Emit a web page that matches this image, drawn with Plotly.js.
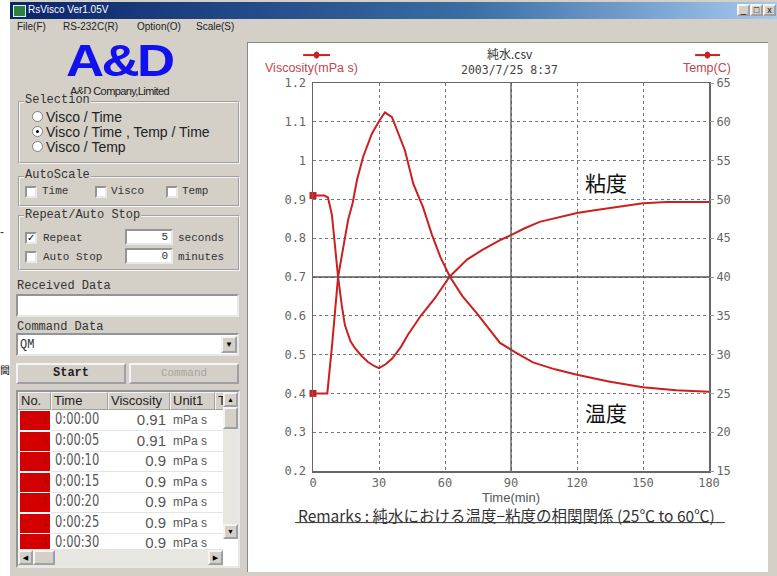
<!DOCTYPE html>
<html><head><meta charset="utf-8">
<script src="https://cdn.plot.ly/plotly-3.0.1.min.js"></script>
<style>
body{margin:0;width:777px;height:576px;overflow:hidden;background:#fff;position:relative;font-family:"Liberation Sans","DejaVu Sans",sans-serif;}
.a{position:absolute;white-space:nowrap;line-height:1;}
.mono{font-family:"Liberation Mono","DejaVu Sans Mono",monospace;font-size:12px;color:#333;}
.grp{position:absolute;border:2px groove #f4f4f4;box-sizing:border-box;}
.lbl{background:#d4d0c8;padding:0 1px;}
.sunk{position:absolute;background:#fff;border:2px inset #e8e8e8;box-sizing:border-box;}
.btn{position:absolute;background:#d4d0c8;border:2px outset #f4f4f4;box-sizing:border-box;text-align:center;}
.chk{position:absolute;width:12px;height:12px;background:#fff;border:2px inset #e8e8e8;box-sizing:border-box;font-size:10px;line-height:8px;color:#000;}
.rad{position:absolute;width:11px;height:11px;border-radius:50%;background:#fff;border:1px solid #808080;box-sizing:border-box;}
.radio{font-size:14px;color:#222;}
</style></head>
<body>
<!-- outside artifacts -->
<div class="a" style="left:0;top:226px;font-size:12px;color:#333;">-</div>
<div class="a" style="left:0;top:365px;font-size:10px;color:#111;font-family:'Noto Sans CJK JP';">閫</div>

<!-- window -->
<div style="position:absolute;left:10px;top:0;width:767px;height:576px;background:#d4d0c8;"></div>
<div style="position:absolute;left:10px;top:2px;width:767px;height:17px;background:linear-gradient(to right,#0a246a,#3a6ea5 60%,#a6caf0);"></div>
<div style="position:absolute;left:13px;top:5px;width:11px;height:10px;background:#2f7f3f;border:1px solid #cfe;"></div>
<div class="a" style="left:28px;top:5px;font-size:10px;color:#fff;">RsVisco Ver1.05V</div>
<div class="btn" style="left:737px;top:4px;width:13px;height:12px;font-size:9px;line-height:8px;">_</div>
<div class="btn" style="left:750px;top:4px;width:13px;height:12px;font-size:9px;line-height:8px;">&#9633;</div>
<div class="btn" style="left:763px;top:4px;width:13px;height:12px;font-size:9px;line-height:8px;">x</div>
<div class="a" style="left:17px;top:22px;font-size:10px;color:#222;">File(F)</div>
<div class="a" style="left:63px;top:22px;font-size:10px;color:#222;">RS-232C(R)</div>
<div class="a" style="left:137px;top:22px;font-size:10px;color:#222;">Option(O)</div>
<div class="a" style="left:196px;top:22px;font-size:10px;color:#222;">Scale(S)</div>

<!-- logo -->
<div class="a" style="left:66px;top:38px;font-size:40px;font-weight:bold;color:#1111ee;font-family:'Liberation Sans';letter-spacing:-2px;transform:scale(1.32,1.12);transform-origin:left top;">A&amp;D</div>
<div class="a" style="left:70px;top:86px;font-size:11px;color:#222;letter-spacing:-0.6px;">A&amp;D Company,Limited</div>

<!-- Selection -->
<div class="grp" style="left:18px;top:101px;width:222px;height:63px;"></div>
<div class="a mono lbl" style="left:24px;top:94px;">Selection</div>
<div class="rad" style="left:32px;top:111px;"></div>
<div class="a radio" style="left:46px;top:110px;">Visco / Time</div>
<div class="rad" style="left:32px;top:126px;"><div style="position:absolute;left:3px;top:3px;width:3px;height:3px;border-radius:50%;background:#000;"></div></div>
<div class="a radio" style="left:46px;top:125px;">Visco / Time , Temp / Time</div>
<div class="rad" style="left:32px;top:141px;"></div>
<div class="a radio" style="left:46px;top:140px;">Visco / Temp</div>

<!-- AutoScale -->
<div class="grp" style="left:18px;top:176px;width:222px;height:31px;"></div>
<div class="a mono lbl" style="left:24px;top:169px;">AutoScale</div>
<div class="chk" style="left:25px;top:186px;"></div>
<div class="a mono" style="left:42px;top:186px;font-size:11px;">Time</div>
<div class="chk" style="left:95px;top:186px;"></div>
<div class="a mono" style="left:111px;top:186px;font-size:11px;">Visco</div>
<div class="chk" style="left:166px;top:186px;"></div>
<div class="a mono" style="left:182px;top:186px;font-size:11px;">Temp</div>

<!-- Repeat/Auto Stop -->
<div class="grp" style="left:18px;top:215px;width:222px;height:56px;"></div>
<div class="a mono lbl" style="left:24px;top:209px;">Repeat/Auto Stop</div>
<div class="chk" style="left:25px;top:232px;">&#10003;</div>
<div class="a mono" style="left:43px;top:233px;font-size:11px;">Repeat</div>
<div class="sunk" style="left:125px;top:229px;width:48px;height:16px;"><div class="a mono" style="right:3px;top:1px;font-size:11px;">5</div></div>
<div class="a mono" style="left:178px;top:233px;font-size:11px;">seconds</div>
<div class="chk" style="left:25px;top:251px;"></div>
<div class="a mono" style="left:43px;top:252px;font-size:11px;">Auto Stop</div>
<div class="sunk" style="left:125px;top:248px;width:48px;height:16px;"><div class="a mono" style="right:3px;top:1px;font-size:11px;">0</div></div>
<div class="a mono" style="left:178px;top:252px;font-size:11px;">minutes</div>

<div class="a mono" style="left:17px;top:280px;">Received Data</div>
<div class="sunk" style="left:16px;top:294px;width:223px;height:23px;"></div>
<div class="a mono" style="left:17px;top:321px;">Command Data</div>
<div class="sunk" style="left:16px;top:333px;width:223px;height:23px;">
  <div class="a mono" style="left:2px;top:4px;">QM</div>
  <div class="btn" style="left:203px;top:1px;width:16px;height:17px;font-size:8px;line-height:13px;">&#9660;</div>
</div>
<div class="btn" style="left:16px;top:363px;width:110px;height:21px;font-family:'Liberation Mono';font-weight:bold;font-size:12px;line-height:17px;color:#222;">Start</div>
<div class="btn" style="left:129px;top:363px;width:110px;height:21px;font-family:'Liberation Mono';font-size:11px;line-height:17px;color:#a8a4a0;">Command</div>

<!-- table -->
<div id="tbl" class="sunk" style="left:16px;top:390px;width:224px;height:178px;"></div>

<!-- chart panel -->
<div style="position:absolute;left:245px;top:33px;width:532px;height:543px;background:#d4d0c8;"></div>
<div style="position:absolute;left:247px;top:42px;width:520px;height:529px;background:#fff;border-top:1px solid #888;border-left:1px solid #888;"></div>
<div id="chart" style="position:absolute;left:248px;top:43px;width:519px;height:527px;"></div>

<script>
// ---- chart data ----
const viscTime = [0, 5, 6.8, 8.6, 10, 11.4, 13, 14.5, 17, 19, 22, 25, 28, 30, 33, 36, 40, 43, 49, 55.5, 62, 70, 77, 85, 90, 96, 103, 110, 120, 128, 137, 150, 161, 180];
const viscValue = [0.91, 0.91, 0.905, 0.86, 0.78, 0.70, 0.63, 0.576, 0.535, 0.517, 0.497, 0.481, 0.47, 0.465, 0.475, 0.49, 0.52, 0.55, 0.60, 0.646, 0.70, 0.745, 0.77, 0.795, 0.808, 0.825, 0.842, 0.852, 0.865, 0.872, 0.88, 0.89, 0.893, 0.893];
const tempTime = [0, 6.5, 8.6, 11.4, 14.5, 16, 18, 20, 22.8, 26.8, 30.5, 32.7, 35.9, 38.5, 41.8, 45.6, 50, 54, 58, 62.3, 68, 74.5, 85, 92, 100, 110, 120, 135, 150, 165, 180];
const tempValue = [25, 25, 31, 40, 45, 47.4, 49.5, 52.5, 55.5, 58.5, 60.3, 61.2, 60.6, 58.8, 56.3, 52.0, 49.0, 45.5, 42.5, 40, 37.5, 35.3, 31.5, 30.3, 29.0, 28.1, 27.4, 26.5, 25.8, 25.4, 25.2];
const xTicks = [0, 30, 60, 90, 120, 150, 180];
const viscTicks = [0.2, 0.3, 0.4, 0.5, 0.6, 0.7, 0.8, 0.9, 1.0, 1.1, 1.2];
const viscTickText = ["0.2", "0.3", "0.4", "0.5", "0.6", "0.7", "0.8", "0.9", "1", "1.1", "1.2"];
const tempTicks = [15, 20, 25, 30, 35, 40, 45, 50, 55, 60, 65];
const chartTitle = "純水.csv";
const chartDate = "2003/7/25 8:37";
const viscLabel = "Viscosity(mPa s)";
const tempLabel = "Temp(C)";
const remarks = "Remarks : 純水における温度−粘度の相関関係 (25℃ to 60℃)";

// ---- table data ----
const tableHeader = ["No.", "Time", "Viscosity", "Unit1", "T"];
const tableTimes = ["0:00:00", "0:00:05", "0:00:10", "0:00:15", "0:00:20", "0:00:25", "0:00:30"];
const tableVisc = ["0.91", "0.91", "0.9", "0.9", "0.9", "0.9", "0.9"];
const tableUnit = "mPa s";

// build table
(function(){
  const t = document.getElementById('tbl');
  const cols = [[0,33],[33,57],[90,62],[152,45],[197,10]];
  let h = '';
  cols.forEach((c,i)=>{
    h += `<div class="btn" style="left:${c[0]}px;top:0;width:${c[1]}px;height:18px;border-width:1px;text-align:left;font-size:13px;line-height:16px;color:#222;padding-left:2px;overflow:hidden;">${tableHeader[i]}</div>`;
  });
  h += `<div class="btn" style="left:205px;top:0;width:15px;height:15px;font-size:7px;line-height:11px;">&#9650;</div>`;
  h += `<div style="position:absolute;left:205px;top:15px;width:15px;height:132px;background:#e8e6e0;"></div>`;
  h += `<div class="btn" style="left:205px;top:15px;width:15px;height:22px;"></div>`;
  h += `<div class="btn" style="left:205px;top:132px;width:15px;height:15px;font-size:7px;line-height:11px;">&#9660;</div>`;
  tableTimes.forEach((tm,i)=>{
    const y = 18 + i*20.5;
    h += `<div style="position:absolute;left:2px;top:${y+1}px;width:30px;height:19px;background:#d40000;"></div>`;
    h += `<div class="a" style="left:24px;top:${y+4}px;font-size:11px;color:#a00;">1</div>`;
    h += `<div class="a" style="left:37px;top:${y+2}px;font-size:15px;color:#555;font-family:'DejaVu Sans Condensed','Liberation Sans Narrow',sans-serif;transform:scaleX(0.85);transform-origin:left;">${tm}</div>`;
    h += `<div class="a" style="right:72px;top:${y+2}px;font-size:15px;color:#555;">${tableVisc[i]}</div>`;
    h += `<div class="a" style="left:155px;top:${y+4}px;font-size:12px;color:#555;">${tableUnit}</div>`;
    h += `<div style="position:absolute;left:33px;top:${y+20}px;width:172px;height:1px;background:#e4e4e4;"></div>`;
  });
  h += `<div style="position:absolute;left:0;top:157px;width:205px;height:17px;background:#e8e6e0;"></div>`;
  h += `<div class="btn" style="left:0;top:158px;width:15px;height:15px;font-size:7px;line-height:11px;">&#9664;</div>`;
  h += `<div class="btn" style="left:15px;top:158px;width:22px;height:15px;"></div>`;
  h += `<div class="btn" style="left:190px;top:158px;width:15px;height:15px;font-size:7px;line-height:11px;">&#9654;</div>`;
  t.innerHTML = h;
})();

const red = '#cc1f1f';
const labelRed = '#c4454f';
const tickFont = {family: 'DejaVu Sans Mono, Liberation Mono, monospace', size: 12, color: '#666'};
const cjk = 'Noto Sans CJK JP, sans-serif';

const traces = [
  {x: viscTime, y: viscValue, type: 'scatter', mode: 'lines', line: {color: red, width: 2}, yaxis: 'y', name: 'Viscosity'},
  {x: tempTime, y: tempValue, type: 'scatter', mode: 'lines', line: {color: red, width: 2}, yaxis: 'y2', name: 'Temp'},
  {x: [viscTime[0]], y: [viscValue[0]], type: 'scatter', mode: 'markers', marker: {color: red, size: 7, symbol: 'square'}, yaxis: 'y', cliponaxis: false},
  {x: [tempTime[0]], y: [tempValue[0]], type: 'scatter', mode: 'markers', marker: {color: red, size: 7, symbol: 'square'}, yaxis: 'y2', cliponaxis: false}
];

const layout = {
  width: 519, height: 527,
  margin: {l: 65, r: 58, t: 40, b: 99},
  paper_bgcolor: '#fff', plot_bgcolor: '#fff',
  showlegend: false,
  xaxis: {
    range: [0, 180], tickvals: xTicks, showgrid: true, gridcolor: '#777', griddash: '3px,3px', gridwidth: 1,
    showline: true, mirror: true, linecolor: '#666', linewidth: 1.5, zeroline: false,
    ticks: '', tickfont: tickFont,
    title: {text: 'Time(min)', font: {family: 'Liberation Sans, sans-serif', size: 13, color: '#555'}, standoff: 0}
  },
  yaxis: {
    range: [0.2, 1.2], tickvals: viscTicks, ticktext: viscTickText, showgrid: true, gridcolor: '#777', griddash: '3px,3px', gridwidth: 1,
    showline: true, mirror: true, linecolor: '#666', linewidth: 1.5, zeroline: false,
    ticks: 'outside', ticklen: 3, tickcolor: 'rgba(0,0,0,0)', tickfont: tickFont
  },
  yaxis2: {
    range: [15, 65], tickvals: tempTicks, overlaying: 'y', side: 'right', showgrid: false, zeroline: false,
    ticks: 'outside', ticklen: 4, tickcolor: '#999', tickfont: tickFont, showline: false
  },
  shapes: [
    {type: 'line', xref: 'x', yref: 'paper', x0: 90, x1: 90, y0: 0, y1: 1, line: {color: '#555', width: 1.3}},
    {type: 'line', xref: 'paper', yref: 'y', x0: 0, x1: 1, y0: 0.7, y1: 0.7, line: {color: '#555', width: 1.3}},
    {type: 'line', xref: 'paper', yref: 'paper', x0: -0.025, x1: 0.043, y0: 1.072, y1: 1.072, line: {color: red, width: 2}},
    {type: 'circle', xref: 'paper', yref: 'paper', x0: 0.003, x1: 0.015, y0: 1.064, y1: 1.08, fillcolor: red, line: {color: red, width: 1}},
    {type: 'line', xref: 'paper', yref: 'paper', x0: 0.965, x1: 1.028, y0: 1.072, y1: 1.072, line: {color: red, width: 2}},
    {type: 'circle', xref: 'paper', yref: 'paper', x0: 0.99, x1: 1.002, y0: 1.064, y1: 1.08, fillcolor: red, line: {color: red, width: 1}},
    {type: 'line', xref: 'paper', yref: 'paper', x0: -0.045, x1: 1.04, y0: -0.133, y1: -0.133, line: {color: '#333', width: 1}}
  ],
  annotations: [
    {xref: 'paper', yref: 'paper', x: 0.497, y: 1.077, yanchor: 'middle', text: chartTitle, showarrow: false, font: {family: cjk, size: 12, color: '#333'}},
    {xref: 'paper', yref: 'paper', x: 0.497, y: 1.034, yanchor: 'middle', text: chartDate, showarrow: false, font: {family: 'DejaVu Sans Mono, monospace', size: 11.5, color: '#444'}},
    {xref: 'paper', yref: 'paper', x: -0.126, y: 1.039, xanchor: 'left', yanchor: 'middle', text: viscLabel, showarrow: false, font: {family: 'Liberation Sans, sans-serif', size: 12.5, color: labelRed}},
    {xref: 'paper', yref: 'paper', x: 1.061, y: 1.039, xanchor: 'right', yanchor: 'middle', text: tempLabel, showarrow: false, font: {family: 'Liberation Sans, sans-serif', size: 12.5, color: labelRed}},
    {xref: 'paper', yref: 'paper', x: -0.042, y: -0.113, xanchor: 'left', yanchor: 'middle', text: remarks, showarrow: false, font: {family: cjk, size: 15.5, color: '#333'}},
    {xref: 'x', yref: 'y', x: 133, y: 0.945, text: '粘度', showarrow: false, font: {family: cjk, size: 21, color: '#111'}},
    {xref: 'x', yref: 'y', x: 133, y: 0.352, text: '温度', showarrow: false, font: {family: cjk, size: 21, color: '#111'}}
  ]
};

Plotly.newPlot('chart', traces, layout, {staticPlot: true, displayModeBar: false});
</script>
</body></html>
